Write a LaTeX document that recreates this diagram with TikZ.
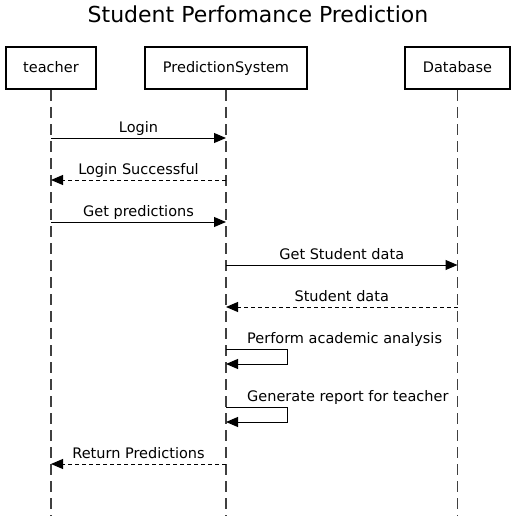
\documentclass[tikz,border=0pt]{standalone}
\usepackage{fontspec}
\setmainfont{DejaVu Sans}
\usetikzlibrary{arrows.meta}
\begin{document}
\begin{tikzpicture}[x=1pt,y=-1pt,
  actor/.style={draw,line width=2pt,minimum height=42pt,inner sep=0pt,text height=12pt,text depth=2pt,font=\fontsize{14.5}{17}\selectfont},
  life/.style={draw=black!75,line width=1.5pt,dash pattern=on 11pt off 6pt},
  msg/.style={line width=1pt,-{Triangle[length=12pt,width=10pt]}},
  ret/.style={msg,dash pattern=on 4pt off 3pt},
  lbl/.style={font=\fontsize{14.5}{17}\selectfont,inner sep=0pt,anchor=base,yshift=5.5pt}]
\useasboundingbox (0,0) rectangle (516,516);
\node[font=\fontsize{22}{26}\selectfont,anchor=base] (title) at (258,23) {Student Perfomance Prediction};
\node[actor,minimum width=90pt] (t) at (51,68) {teacher};
\node[actor,minimum width=162pt] (p) at (226,68) {PredictionSystem};
\node[actor,minimum width=105pt] (d) at (457.5,68) {Database};
\coordinate (tb) at (51,516);
\coordinate (pb) at (226,516);
\coordinate (db) at (457.5,516);
\draw[life] (t.south) -- (tb);
\draw[life] (p.south) -- (pb);
\draw[life] (d.south) -- (db);
% messages
\coordinate (t1) at (51,138); \coordinate (p1) at (226,138);
\draw[msg] (t1) -- (p1);
\node[lbl] (l1) at (138.5,138) {Login};
\coordinate (t2) at (51,180); \coordinate (p2) at (226,180);
\draw[ret] (p2) -- (t2);
\node[lbl] (l2) at (138.5,180) {Login Successful};
\coordinate (t3) at (51,222); \coordinate (p3) at (226,222);
\draw[msg] (t3) -- (p3);
\node[lbl] (l3) at (138.5,222) {Get predictions};
\coordinate (p4) at (226,265); \coordinate (d4) at (457.5,265);
\draw[msg] (p4) -- (d4);
\node[lbl] (l4) at (341.75,265) {Get Student data};
\coordinate (p5) at (226,307); \coordinate (d5) at (457.5,307);
\draw[ret] (d5) -- (p5);
\node[lbl] (l5) at (341.75,307) {Student data};
\coordinate (p6a) at (226,349); \coordinate (p6b) at (226,364);
\draw[msg] (p6a) -- (287,349) -- (287,364) -- (p6b);
\node[lbl,anchor=base west] (l6) at (247,349) {Perform academic analysis};
\coordinate (p7a) at (226,407); \coordinate (p7b) at (226,422);
\draw[msg] (p7a) -- (287,407) -- (287,422) -- (p7b);
\node[lbl,anchor=base west] (l7) at (247,407) {Generate report for teacher};
\coordinate (t8) at (51,464); \coordinate (p8) at (226,464);
\draw[ret] (p8) -- (t8);
\node[lbl] (l8) at (138.5,464) {Return Predictions};
\end{tikzpicture}
\end{document}
